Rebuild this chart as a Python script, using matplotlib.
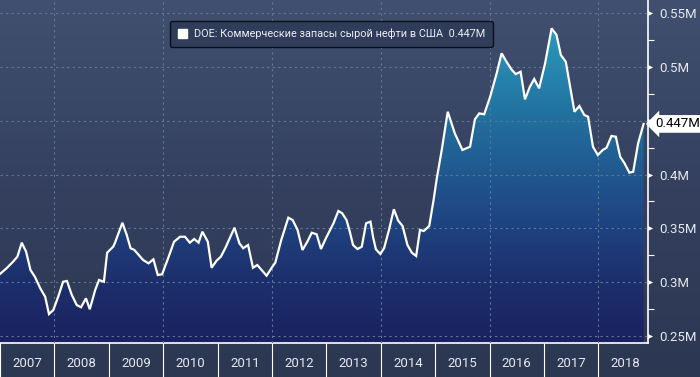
import numpy as np
import matplotlib
matplotlib.use("Agg")
import matplotlib.pyplot as plt
from matplotlib.colors import LinearSegmentedColormap
from matplotlib.patches import Patch
from matplotlib.transforms import blended_transform_factory

# Коммерческие запасы сырой нефти в США (млрд баррелей, "M" = млн тыс.)
t = [2007.00, 2007.12, 2007.24, 2007.32, 2007.40, 2007.48, 2007.56, 2007.64, 2007.74, 2007.83,
     2007.90, 2007.98, 2008.07, 2008.16, 2008.23, 2008.32, 2008.41, 2008.49, 2008.58, 2008.65,
     2008.75, 2008.82, 2008.91, 2008.97, 2009.08, 2009.11, 2009.25, 2009.33, 2009.40, 2009.47,
     2009.63, 2009.73, 2009.82, 2009.90, 2009.98, 2010.09, 2010.20, 2010.31, 2010.40, 2010.49,
     2010.57, 2010.65, 2010.72, 2010.82, 2010.89, 2010.98, 2011.06, 2011.14, 2011.31, 2011.40,
     2011.47, 2011.56, 2011.65, 2011.73, 2011.90, 2012.00, 2012.06, 2012.17, 2012.30, 2012.38,
     2012.47, 2012.56, 2012.65, 2012.73, 2012.82, 2012.90, 2012.99, 2013.13, 2013.22, 2013.29,
     2013.37, 2013.43, 2013.49, 2013.57, 2013.65, 2013.73, 2013.81, 2013.86, 2013.91, 2013.99,
     2014.06, 2014.15, 2014.24, 2014.32, 2014.40, 2014.49, 2014.57, 2014.65, 2014.72, 2014.79,
     2014.89, 2014.97, 2015.03, 2015.12, 2015.23, 2015.36, 2015.50, 2015.64, 2015.73, 2015.81,
     2015.90, 2016.01, 2016.13, 2016.22, 2016.31, 2016.41, 2016.48, 2016.57, 2016.65, 2016.74,
     2016.82, 2016.91, 2017.02, 2017.14, 2017.23, 2017.31, 2017.40, 2017.56, 2017.65, 2017.74,
     2017.81, 2017.90, 2017.99, 2018.08, 2018.15, 2018.24, 2018.32, 2018.40, 2018.48, 2018.57,
     2018.64, 2018.73, 2018.83]
v = [0.3076, 0.3129, 0.3190, 0.3237, 0.3367, 0.3283, 0.3113, 0.3051, 0.2943, 0.2865,
     0.2704, 0.2741, 0.2865, 0.3004, 0.3011, 0.2881, 0.2788, 0.2767, 0.2850, 0.2748,
     0.2927, 0.3020, 0.3004, 0.3274, 0.3329, 0.3361, 0.3552, 0.3438, 0.3315, 0.3299,
     0.3206, 0.3175, 0.3212, 0.3067, 0.3073, 0.3222, 0.3376, 0.3422, 0.3422, 0.3367,
     0.3401, 0.3367, 0.3469, 0.3376, 0.3134, 0.3199, 0.3237, 0.3315, 0.3506, 0.3361,
     0.3315, 0.3345, 0.3134, 0.3159, 0.3060, 0.3138, 0.3181, 0.3392, 0.3599, 0.3577,
     0.3485, 0.3299, 0.3376, 0.3459, 0.3445, 0.3308, 0.3407, 0.3547, 0.3661, 0.3640,
     0.3577, 0.3469, 0.3345, 0.3308, 0.3329, 0.3547, 0.3562, 0.3413, 0.3305, 0.3262,
     0.3315, 0.3485, 0.3677, 0.3571, 0.3522, 0.3345, 0.3274, 0.3243, 0.3485, 0.3475,
     0.3522, 0.3763, 0.3967, 0.4228, 0.4583, 0.4383, 0.4228, 0.4258, 0.4513, 0.4568,
     0.4559, 0.4723, 0.4940, 0.5126, 0.5048, 0.4971, 0.4933, 0.4955, 0.4698, 0.4815,
     0.4887, 0.4801, 0.5033, 0.5358, 0.5296, 0.5110, 0.5048, 0.4583, 0.4636, 0.4553,
     0.4537, 0.4258, 0.4181, 0.4228, 0.4249, 0.4358, 0.4351, 0.4165, 0.4104, 0.4017,
     0.4026, 0.4290, 0.4470]

years = list(range(2007, 2019))
y_ticks = [0.25, 0.30, 0.35, 0.40, 0.45, 0.50, 0.55]
y_labels = ["0.25M", "0.3M", "0.35M", "0.4M", "", "0.5M", "0.55M"]
last_label = "0.447M"
legend_text = "DOE: Коммерческие запасы сырой нефти в США  0.447M"

plt.rcParams['font.family'] = ['Liberation Sans Narrow', 'Roboto', 'DejaVu Sans']

W, H = 700, 377
fig = plt.figure(figsize=(W / 100, H / 100), dpi=100)

# фон всей картинки
bg = fig.add_axes([0, 0, 1, 1], zorder=0)
bg_cmap = LinearSegmentedColormap.from_list("bg", ["#2c3752", "#34405e", "#415070"])
bg.imshow(np.linspace(0, 1, 256).reshape(-1, 1), origin="lower", aspect="auto",
          cmap=bg_cmap, extent=[0, 1, 0, 1])
bg.set_axis_off()

x0, x1 = 2007.0, 2018.906
y0, y1 = 0.2435, 0.5621

ax = fig.add_axes([0, 1 - 343 / H, 647.7 / W, 343 / H], zorder=1)
ax.patch.set_alpha(0)
ax.set_xlim(x0, x1)
ax.set_ylim(y0, y1)

# градиентная заливка под линией
fill_cmap = LinearSegmentedColormap.from_list(
    "fill", [(0.0, "#1b2160"), (0.2, "#1d306e"), (0.4, "#1f4884"),
             (0.7, "#2272a0"), (1.0, "#2aa2c2")])
grad = ax.imshow(np.linspace(0, 1, 256).reshape(-1, 1), origin="lower", aspect="auto",
                 cmap=fill_cmap, extent=[x0, x1, y0, 0.55], zorder=2)
poly = ax.fill_between(t, v, y0, facecolor="none", edgecolor="none")
grad.set_clip_path(poly.get_paths()[0], transform=ax.transData)

ax.plot(t, v, color="white", lw=1.6, zorder=4, solid_joinstyle="miter")

# сетка
for yy in y_ticks:
    ax.axhline(yy, color="#5f7896", lw=0.8, ls=(0, (2, 3)), zorder=3)
for yr in range(2008, 2019, 2):
    ax.axvline(yr, color="#5f7896", lw=0.8, ls=(0, (2, 3)), zorder=3)

for s in ["top", "left"]:
    ax.spines[s].set_visible(False)
ax.spines["bottom"].set_color("white")
ax.spines["right"].set_color("white")
ax.spines["bottom"].set_linewidth(1.2)
ax.spines["right"].set_linewidth(1.2)

# ось X: разделители лет и подписи по центру года
ax.set_xticks(years)
ax.set_xticklabels([])
ax.tick_params(axis="x", which="major", direction="out", length=25, color="white", width=0.8)
ax.set_xticks([y + 0.5 for y in years], minor=True)
ax.set_xticklabels([str(y) for y in years], minor=True)
ax.tick_params(axis="x", which="minor", length=0, pad=10, labelsize=9.5, labelcolor="#e6e8ee")

# ось Y справа
ax.yaxis.tick_right()
ax.set_yticks(y_ticks)
ax.set_yticklabels(y_labels)
ax.set_yticks(np.arange(0.275, 0.55, 0.05), minor=True)
ax.tick_params(axis="y", which="major", direction="out", length=0, pad=8,
               labelsize=9.5, labelcolor="#e6e8ee")
ax.tick_params(axis="y", which="minor", direction="out", length=4, color="white", width=0.8)
tr = blended_transform_factory(ax.transAxes, ax.transData)
ax.scatter([1.004] * len(y_ticks), y_ticks, marker=">", s=14, color="white",
           transform=tr, clip_on=False, zorder=5, linewidths=0)

# метка последнего значения
ax.text(1.012, v[-1], last_label, transform=tr, ha="left", va="center",
        fontsize=9.5, color="black", zorder=6,
        bbox=dict(boxstyle="larrow,pad=0.18", facecolor="white", edgecolor="none"))

# легенда
leg = ax.legend(handles=[Patch(facecolor="white", edgecolor="white")], labels=[legend_text],
                loc="upper left", bbox_to_anchor=(170 / 647.7, 1 - 21 / 343),
                fontsize=7.8, frameon=True, fancybox=True, handlelength=0.9,
                handleheight=0.9, handletextpad=0.6, borderpad=0.7, borderaxespad=0)
leg.get_frame().set_facecolor("#2f3c5a")
leg.get_frame().set_edgecolor("#0c0f18")
leg.get_frame().set_alpha(1)
leg.get_frame().set_linewidth(1.0)
for txt in leg.get_texts():
    txt.set_color("#eceef3")

fig.savefig("out.png", dpi=100, facecolor=fig.get_facecolor())
